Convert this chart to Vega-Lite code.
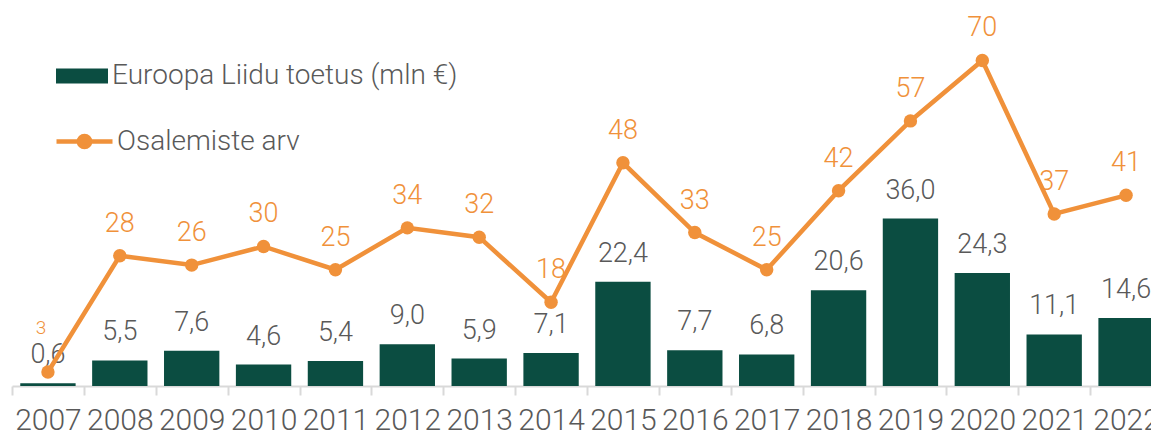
{
  "$schema": "https://vega.github.io/schema/vega-lite/v6.json",
  "width": 1139,
  "height": 386,
  "autosize": {"type": "none"},
  "padding": {"left": 12, "top": 0, "right": 0, "bottom": 48},
  "config": {
    "view": {"stroke": null},
    "font": "Roboto",
    "locale": {"number": {"decimal": ",", "thousands": " ", "grouping": [3], "currency": ["", " €"]}}
  },
  "data": {
    "values": [
      {"year": 2007, "eu": 0.6, "osal": 3},
      {"year": 2008, "eu": 5.5, "osal": 28},
      {"year": 2009, "eu": 7.6, "osal": 26},
      {"year": 2010, "eu": 4.6, "osal": 30},
      {"year": 2011, "eu": 5.4, "osal": 25},
      {"year": 2012, "eu": 9.0, "osal": 34},
      {"year": 2013, "eu": 5.9, "osal": 32},
      {"year": 2014, "eu": 7.1, "osal": 18},
      {"year": 2015, "eu": 22.4, "osal": 48},
      {"year": 2016, "eu": 7.7, "osal": 33},
      {"year": 2017, "eu": 6.8, "osal": 25},
      {"year": 2018, "eu": 20.6, "osal": 42},
      {"year": 2019, "eu": 36.0, "osal": 57},
      {"year": 2020, "eu": 24.3, "osal": 70},
      {"year": 2021, "eu": 11.1, "osal": 37},
      {"year": 2022, "eu": 14.6, "osal": 41}
    ]
  },
  "encoding": {
    "x": {
      "field": "year",
      "type": "ordinal",
      "scale": {"paddingInner": 0, "paddingOuter": 0, "range": [0, 1150]},
      "axis": {
        "title": null,
        "labelAngle": 0,
        "labelFont": "Roboto",
        "labelFontSize": 30,
        "labelFontWeight": 300,
        "labelColor": "#595959",
        "labelBaseline": "alphabetic",
        "labelPadding": 34,
        "tickSize": 9,
        "tickWidth": 2,
        "tickColor": "#d9d9d9",
        "domainColor": "#d9d9d9",
        "domainWidth": 2,
        "tickBand": "extent",
        "labelOverlap": false
      }
    }
  },
  "layer": [
    {
      "mark": {"type": "bar", "width": {"band": 0.77}},
      "encoding": {
        "y": {"field": "eu", "type": "quantitative", "scale": {"domain": [0, 83], "nice": false, "zero": true}, "axis": null},
        "fill": {
          "datum": "Euroopa Liidu toetus (mln €)",
          "scale": {"range": ["#0b4d41"]},
          "legend": {
            "orient": "none",
            "legendX": 44,
            "legendY": 50,
            "title": null,
            "padding": 0,
            "symbolType": "M-1,-0.29H1V0.29H-1Z",
            "symbolSize": 2704,
            "symbolStrokeWidth": 0,
            "labelFont": "Roboto",
            "labelFontSize": 28,
            "labelFontWeight": 300,
            "labelColor": "#595959",
            "labelOffset": 4,
            "labelLimit": 0
          }
        }
      }
    },
    {
      "mark": {"type": "text", "dy": -20, "baseline": "alphabetic", "fontSize": 27, "fontWeight": 300, "color": "#595959", "font": "Roboto"},
      "encoding": {
        "y": {"field": "eu", "type": "quantitative", "scale": {"domain": [0, 83], "nice": false}},
        "text": {"field": "eu", "type": "quantitative", "format": ".1f"}
      }
    },
    {
      "mark": {"type": "line", "strokeWidth": 4.5},
      "encoding": {
        "y": {"field": "osal", "type": "quantitative", "scale": {"domain": [0, 83], "nice": false}},
        "stroke": {
          "datum": "Osalemiste arv",
          "scale": {"range": ["#f0913a"]},
          "legend": {
            "orient": "none",
            "legendX": 42,
            "legendY": 111,
            "title": null,
            "padding": 0,
            "symbolType": "M-1,0H1M-0.2,0A0.2,0.2 0 1 0 0.2,0A0.2,0.2 0 1 0 -0.2,0",
            "symbolSize": 3136,
            "symbolStrokeWidth": 4.5,
            "symbolFillColor": "#f0913a",
            "symbolStrokeColor": "#f0913a",
            "labelFont": "Roboto",
            "labelFontSize": 28,
            "labelFontWeight": 300,
            "labelColor": "#595959",
            "labelOffset": 2,
            "labelLimit": 0,
            "encode": {"symbols": {"update": {"fill": {"value": "#f0913a"}, "stroke": {"value": "#f0913a"}}}}
          }
        }
      }
    },
    {
      "mark": {"type": "point", "filled": true, "size": 180, "color": "#f0913a", "opacity": 1},
      "encoding": {"y": {"field": "osal", "type": "quantitative", "scale": {"domain": [0, 83], "nice": false}}}
    },
    {
      "transform": [{"filter": "datum.year != 2007"}],
      "mark": {"type": "text", "dy": -24, "baseline": "alphabetic", "fontSize": 27, "fontWeight": 300, "color": "#f0913a", "font": "Roboto"},
      "encoding": {
        "y": {"field": "osal", "type": "quantitative", "scale": {"domain": [0, 83], "nice": false}},
        "text": {"field": "osal", "type": "quantitative"}
      }
    },
    {
      "transform": [{"filter": "datum.year == 2007"}],
      "mark": {"type": "text", "dy": -38, "dx": -7, "baseline": "alphabetic", "fontSize": 19, "fontWeight": 300, "color": "#f0913a", "font": "Roboto"},
      "encoding": {
        "y": {"field": "osal", "type": "quantitative", "scale": {"domain": [0, 83], "nice": false}},
        "text": {"field": "osal", "type": "quantitative"}
      }
    }
  ]
}
